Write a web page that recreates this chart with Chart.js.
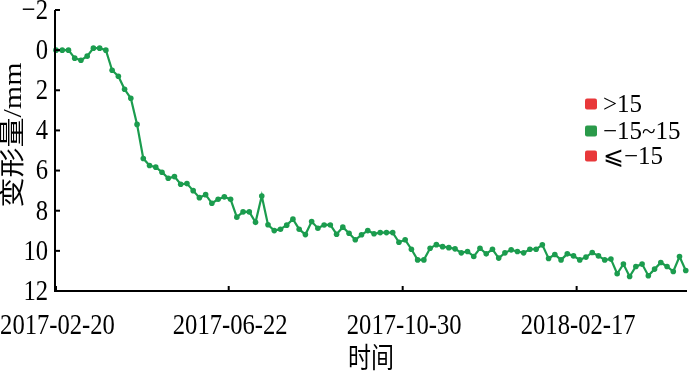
<!DOCTYPE html>
<html><head><meta charset="utf-8">
<script src="https://cdn.jsdelivr.net/npm/chart.js@4/dist/chart.umd.min.js"></script>
<style>html,body{margin:0;padding:0;background:#fff}#wrap{width:700px;height:376px;position:relative}</style>
</head><body><div id="wrap"><canvas id="c"></canvas></div>
<script>
// ---- data ----
const deformation = [
  0.0, 0.0, 0.0, 0.4, 0.5, 0.3, -0.1, -0.1, 0.0, 1.0,
  1.3, 1.95, 2.4, 3.7, 5.4, 5.75, 5.83, 6.08, 6.38, 6.3,
  6.68, 6.65, 7.0, 7.35, 7.2, 7.63, 7.43, 7.31, 7.43, 8.32,
  8.06, 8.06, 8.58, 7.27, 8.7, 8.99, 8.92, 8.72, 8.42, 8.92,
  9.19, 8.54, 8.87, 8.71, 8.71, 9.17, 8.82, 9.12, 9.45, 9.2,
  8.99, 9.15, 9.09, 9.09, 9.09, 9.57, 9.45, 9.92, 10.45, 10.45,
  9.87, 9.69, 9.79, 9.84, 9.9, 10.1, 10.03, 10.28, 9.87, 10.15,
  9.92, 10.36, 10.1, 9.95, 10.03, 10.1, 9.92, 9.92, 9.7, 10.38,
  10.18, 10.45, 10.15, 10.25, 10.45, 10.31, 10.08, 10.25, 10.45, 10.41,
  11.14, 10.66, 11.28, 10.78, 10.66, 11.24, 10.91, 10.58, 10.78, 11.03,
  10.28, 10.98
];
const xTickLabels = ['2017-02-20', '2017-06-22', '2017-10-30', '2018-02-17'];
const xTickIndex = [0, 27.7, 55.6, 83.5];
const yTickValues = [-2, 0, 2, 4, 6, 8, 10, 12];
const legendLabels = ['>15', '\u221215~15', '\u2A7D\u221215'];
const xTitle = '时间';
const yTitle = '变形量/mm';

// ---- styles ----
const GREEN = '#1b9c4e';
const legendColors = ['#e8383a', '#2a9a4a', '#e8383a'];
const SERIF = '"Liberation Serif", "Noto Sans CJK SC", serif';
const SX = 0.82;

function sText(ctx, txt, x, y, font, align, base, sx) {
  ctx.save();
  ctx.translate(x, y);
  ctx.scale(sx, 1);
  ctx.font = font;
  ctx.textAlign = align;
  ctx.textBaseline = base;
  ctx.fillStyle = '#000';
  ctx.fillText(txt, 0, 0);
  ctx.restore();
}

const decor = {
  id: 'decor',
  afterDraw(chart) {
    const ctx = chart.ctx;
    const a = chart.chartArea;
    const xs = chart.scales.x, ys = chart.scales.y;
    ctx.save();
    ctx.strokeStyle = '#000';
    ctx.lineWidth = 2;
    ctx.beginPath();
    ctx.moveTo(a.left, a.top); ctx.lineTo(a.left, a.bottom + 1);
    ctx.moveTo(a.left - 1, a.bottom); ctx.lineTo(a.right, a.bottom);
    ctx.stroke();
    // y ticks
    yTickValues.forEach(v => {
      const py = ys.getPixelForValue(v);
      ctx.beginPath(); ctx.moveTo(a.left, py); ctx.lineTo(a.left + 5, py); ctx.stroke();
      const lab = v < 0 ? '\u2212' + Math.abs(v) : String(v);
      sText(ctx, lab, a.left - 7, py + 1, '30px ' + SERIF, 'right', 'middle', SX);
    });
    // x ticks
    xTickIndex.forEach((iv, k) => {
      const px = xs.getPixelForValue(iv);
      ctx.beginPath(); ctx.moveTo(px, a.bottom); ctx.lineTo(px, a.bottom - 5); ctx.stroke();
      sText(ctx, xTickLabels[k], px + 1.5, a.bottom + 20, '30px ' + SERIF, 'center', 'top', SX);
    });
    ctx.restore();
    // titles
    sText(ctx, xTitle, (a.left + a.right) / 2, 357, '28px "Noto Sans CJK SC"', 'center', 'middle', SX);
    ctx.save();
    ctx.translate(15, 135);
    ctx.rotate(-Math.PI / 2);
    ctx.scale(1, SX);
    ctx.font = '30px ' + SERIF;
    ctx.textAlign = 'center';
    ctx.textBaseline = 'middle';
    ctx.fillStyle = '#000';
    ctx.fillText(yTitle, 0, 0);
    ctx.restore();
    // legend
    const ly = [104, 131, 156];
    legendLabels.forEach((t, i) => {
      ctx.save();
      ctx.fillStyle = legendColors[i];
      ctx.beginPath();
      ctx.roundRect(585, ly[i] - 5.5, 12, 11, 2);
      ctx.fill();
      ctx.restore();
      sText(ctx, t, 603, ly[i] + 1, '25px ' + SERIF, 'left', 'middle', 1);
    });
  }
};

new Chart(document.getElementById('c'), {
  type: 'line',
  data: {
    datasets: [{
      data: deformation.map((v, i) => ({ x: i, y: v })),
      borderColor: GREEN,
      backgroundColor: GREEN,
      borderWidth: 2.2,
      pointRadius: 2.8,
      pointBorderWidth: 0,
      pointBackgroundColor: GREEN,
      tension: 0,
      clip: false
    }]
  },
  options: {
    responsive: true,
    maintainAspectRatio: false,
    animation: false,
    devicePixelRatio: 1,
    layout: { padding: { left: 55, right: 13, top: 10, bottom: 85 } },
    plugins: { legend: { display: false }, tooltip: { enabled: false } },
    scales: {
      x: { type: 'linear', min: -0.16, max: 101.2, display: false },
      y: { type: 'linear', min: -2, max: 12, reverse: true, display: false }
    }
  },
  plugins: [decor]
});
</script>
</body></html>
